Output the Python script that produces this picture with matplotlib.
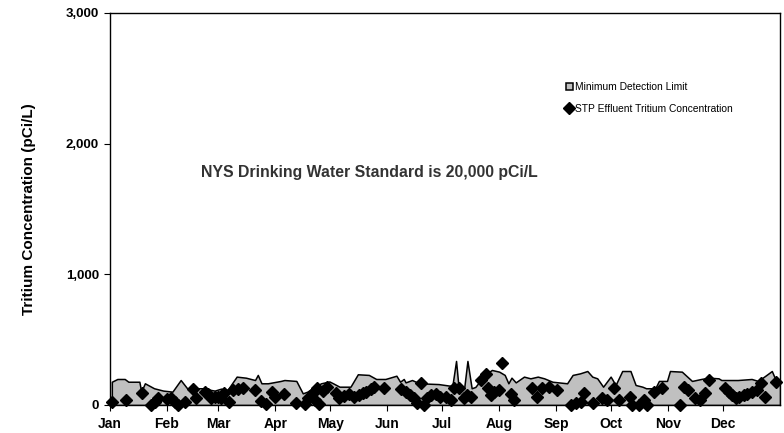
import matplotlib.pyplot as plt

plt.rcParams['font.family'] = ['Liberation Sans', 'DejaVu Sans']

# Minimum detection limit (day of year, pCi/L)
mdl_dia = [1, 4, 8, 10, 16, 17, 19, 24, 29, 34, 38.5, 42, 52, 55, 57, 60.5, 64, 69, 74, 79,
           80.5, 82.5, 86, 93, 95, 101.5, 105, 107.5, 111.5, 115, 119.5, 121.5, 125, 131, 135,
           141, 145, 150, 156, 158, 160, 161, 164.5, 168.5, 179, 185, 186.5, 188.5, 190, 193,
           194.7, 197, 199, 204, 208, 212, 215, 217, 218.7, 221, 225.5, 229, 233, 236.5, 241,
           249, 252, 256, 260, 262.7, 265.4, 268.6, 272.7, 275.4, 279, 283.5, 286.3, 290, 292,
           297, 299, 303.4, 305, 311.5, 317, 322, 326, 331.5, 333, 342, 349.5, 353, 357, 360.5,
           363, 365]
mdl_valor = [178, 199, 199, 178, 178, 102, 166, 128, 110, 102, 191, 128, 128, 115, 110, 125, 115,
             217, 209, 191, 230, 166, 166, 184, 191, 184, 89, 102, 140, 166, 180, 166, 140, 140,
             235, 230, 199, 199, 224, 178, 199, 173, 191, 166, 160, 148, 148, 337, 115, 138, 337,
             128, 138, 230, 268, 255, 230, 166, 209, 173, 217, 204, 217, 204, 178, 166, 230, 242,
             260, 217, 204, 140, 217, 153, 260, 260, 153, 140, 128, 128, 184, 184, 260, 255, 184,
             199, 209, 204, 191, 191, 199, 184, 224, 260, 178, 178]

# STP effluent tritium results (day of year, pCi/L)
trit_dia = [0.9, 8.5, 17.6, 22.6, 24.5, 26, 30.8, 33.5, 35.3, 36.8, 40.8, 45, 47, 51.6, 53.4, 55,
            57, 58.9, 60.7, 62, 65, 67, 69.7, 72.5, 79, 82.4, 85, 88, 89.7, 94.7, 101.5, 106,
            107.8, 110.5, 111.4, 113, 114, 116, 118, 123, 125, 127.7, 130.4, 133, 135.9, 137.7,
            139.5, 142, 144, 149.5, 158.5, 161, 163.6, 165.8, 167, 169.4, 171, 172.7, 174.8,
            177.5, 180, 183, 185.7, 187.5, 190, 192.6, 194.7, 196.6, 202, 204.7, 206, 207.5,
            209.2, 212, 213.8, 218.3, 220, 230, 232.8, 235.5, 239, 243.6, 251, 253.6, 256.3, 258,
            263, 268, 270.8, 274.8, 277, 283.5, 284.4, 288, 290.8, 292.6, 296.2, 300.7, 310.7,
            312.5, 315, 318.8, 321.6, 324.3, 326.4, 335, 337, 339, 341, 342.7, 345.4, 347.2,
            349.9, 352.6, 354.5, 357, 363]
trit_valor = [25, 38, 89, 0, 25, 56, 46, 56, 25, 0, 25, 122, 51, 102, 84, 51, 64, 64, 51, 89, 25,
              115, 122, 128, 115, 31, 5, 97, 64, 82, 13, 5, 51, 89, 38, 128, 5, 107, 140, 89, 51,
              71, 82, 64, 77, 89, 102, 122, 140, 128, 122, 102, 77, 51, 13, 166, 0, 51, 77, 82,
              64, 64, 38, 133, 133, 51, 77, 64, 191, 235, 133, 77, 102, 115, 319, 82, 38, 133, 64,
              128, 140, 115, 0, 13, 25, 89, 13, 51, 38, 128, 38, 64, 0, 0, 38, 0, 97, 128, 0, 140,
              115, 51, 38, 89, 191, 128, 102, 77, 51, 64, 77, 82, 102, 115, 166, 64, 178]

meses = ['Jan', 'Feb', 'Mar', 'Apr', 'May', 'Jun', 'Jul', 'Aug', 'Sep', 'Oct', 'Nov', 'Dec']
inicio_mes = [0, 31, 59, 90, 120, 151, 181, 212, 243, 273, 304, 334]

fig = plt.figure(figsize=(7.84, 4.33), dpi=100)
ax = fig.add_axes([0.1403, 0.0647, 0.8547, 0.9053])

ax.fill_between(mdl_dia, mdl_valor, 0, facecolor='#c0c0c0', edgecolor='black',
                linewidth=1.1, label='Minimum Detection Limit', zorder=2)
ax.plot(trit_dia, trit_valor, linestyle='none', marker='D', markersize=6.2,
        color='black', label='STP Effluent Tritium Concentration', zorder=3, clip_on=False)

ax.set_xlim(0, 365)
ax.set_ylim(0, 3000)
ax.set_xticks(inicio_mes)
ax.set_xticklabels(meses)
ax.set_yticks([0, 1000, 2000, 3000])
ax.set_yticklabels(['0', '1,000', '2,000', '3,000'])
ax.tick_params(axis='x', direction='inout', length=8, width=0.8, labelsize=10, pad=5)
ax.tick_params(axis='y', direction='out', length=4, width=0.8, labelsize=9.5, pad=4)
for lbl in ax.get_xticklabels() + ax.get_yticklabels():
    lbl.set_fontweight('bold')
for sp in ax.spines.values():
    sp.set_linewidth(1.0)

ax.set_ylabel('Tritium Concentration (pCi/L)', fontsize=11, fontweight='bold', labelpad=21)

ax.text(0.136, 0.594, 'NYS Drinking Water Standard is 20,000 pCi/L', transform=ax.transAxes,
        fontsize=11.4, fontweight='bold', color='#333333', va='center')

ax.legend(loc='upper left', bbox_to_anchor=(0.674, 0.834), frameon=False, fontsize=7.4,
          handlelength=0.7, handleheight=0.7, handletextpad=0.2, labelspacing=1.15,
          borderaxespad=0)

plt.savefig('out.png', dpi=100)
